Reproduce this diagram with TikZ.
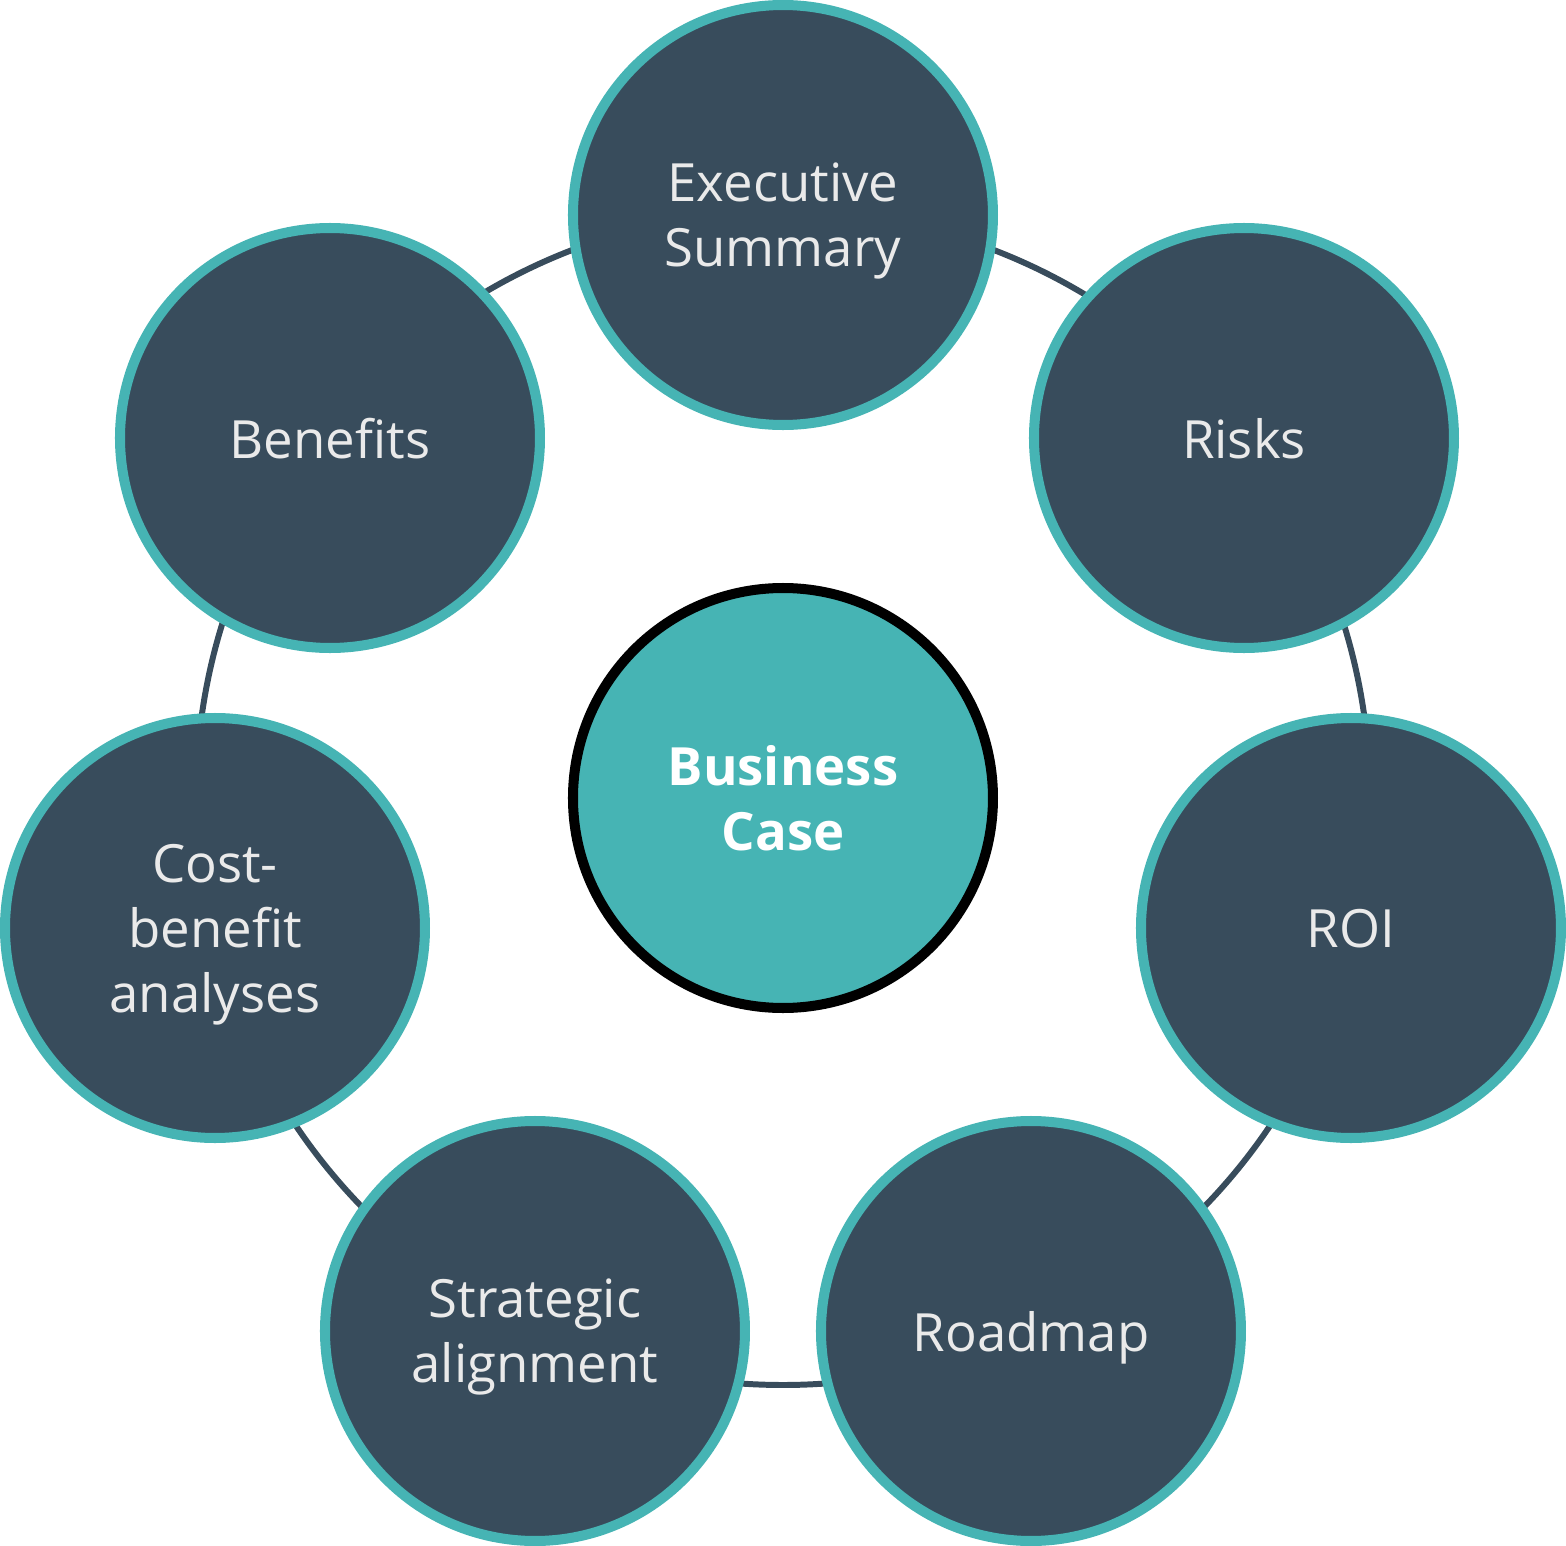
\documentclass[tikz,border=0pt]{standalone}
\usepackage{fontspec}
\setmainfont{Open Sans}
\usepackage{tikz}
\usetikzlibrary{positioning,backgrounds}
\definecolor{slatefill} {RGB}{56,76,92}
\definecolor{tealring}  {RGB}{70,180,180}
\definecolor{labelgray} {RGB}{234,234,234}
\tikzset{
  topicnode/.style={circle, draw=tealring, fill=slatefill,
                    line width=2.85pt, minimum size=4.2cm, inner sep=0pt,
                    align=center, text=labelgray, text depth=0pt,
                    font=\fontsize{15}{18.5}\selectfont},
  hubnode/.style  ={topicnode, draw=black, fill=tealring, text=white,
                    font=\bfseries\fontsize{15}{18.5}\selectfont},
  ringline/.style ={draw=slatefill, line width=1.7pt},
}

\begin{document}
\begin{tikzpicture}
  \useasboundingbox (-7.83,-7.48) rectangle (7.83,7.98);
  \node[hubnode] (hub) at (0,0) {Business\\Case};
  \node[topicnode] (exec)  at (0,5.83)       {Executive\\Summary};
  \node[topicnode] (risks) at (4.61,3.60)    {Risks};
  \node[topicnode] (roi)   at (5.68,-1.30)   {ROI};
  \node[topicnode] (road)  at (2.48,-5.33)   {Roadmap};
  \node[topicnode] (strat) at (-2.48,-5.33)  {Strategic\\alignment};
  \node[topicnode] (cost)  at (-5.68,-1.30)  {Cost-\\benefit\\analyses};
  \node[topicnode] (benef) at (-4.53,3.60)   {Benefits};
  %% ring behind the topics
  \begin{scope}[on background layer]
    \draw[ringline] (hub.center) circle[radius=5.87];
  \end{scope}
\end{tikzpicture}
\end{document}
